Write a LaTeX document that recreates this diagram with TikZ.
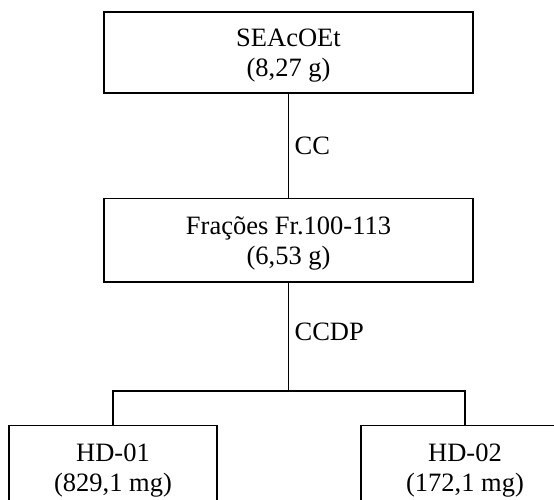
\documentclass[tikz,border=0pt]{standalone}
\usepackage{fontspec}
\setmainfont{Liberation Serif}
\newcommand{\toprule}{\rule{0pt}{25pt}}
\newcommand{\botrule}{\rule[-6pt]{0pt}{6pt}}
\begin{document}
\begin{tikzpicture}[x=1pt,y=1pt,
  box/.style={draw, line width=1.6pt, align=center, inner sep=0pt,
    font=\fontsize{26.5}{30}\selectfont},
  conn/.style={line width=1.6pt},
  lbl/.style={font=\fontsize{26.5}{30}\selectfont, inner sep=3.3pt}]
\useasboundingbox (0,0) rectangle (554,500);
\node[box, minimum width=369, minimum height=81] (top) at (288.5,447.5) {\toprule SEAcOEt\\(8,27 g)\botrule};
\node[box, minimum width=369, minimum height=83.5] (mid) at (288.5,259.75) {\toprule Frações Fr.100-113\\(6,53 g)\botrule};
\node[box, minimum width=208, minimum height=84] (hd1) at (113,32.5) {\toprule HD-01\\(829,1 mg)\botrule};
\node[box, minimum width=208, minimum height=84] (hd2) at (465,32.5) {\toprule HD-02\\(172,1 mg)\botrule};
\coordinate (split) at (288.5,109);
\draw[conn] (top.south) -- (mid.north) node[lbl, pos=0.5, right=2pt] (cc) {CC};
\draw[conn] (mid.south) -- (split) node[lbl, pos=0.45, right=2pt] (ccdp) {CCDP};
\draw[conn] (hd1.north) |- (split) -| (hd2.north);
\end{tikzpicture}
\end{document}
